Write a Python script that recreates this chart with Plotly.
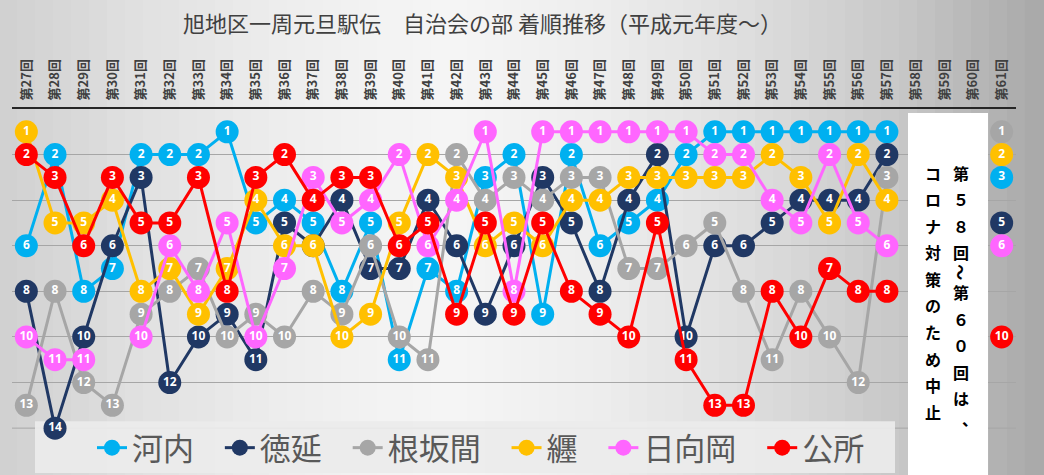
import plotly.graph_objects as go

# 着順データ（第27回〜第61回、第58〜60回は中止）
episodes = [f"第{n}回" for n in range(27, 62)]

kawauchi = [6, 2, 8, 7, 2, 2, 2, 1, 5, 4, 5, 8, 5, 11, 7, 8, 3, 2, 9, 2,
            6, 5, 4, 2, 1, 1, 1, 1, 1, 1, 1, None, None, None, 3]
tokunobe = [8, 14, 10, 6, 3, 12, 10, 9, 11, 5, 6, 4, 7, 7, 4, 6, 9, 6, 3, 5,
            8, 4, 2, 10, 6, 6, 5, 4, 4, 4, 2, None, None, None, 5]
nesakama = [13, 8, 12, 13, 9, 8, 7, 10, 9, 10, 8, 9, 6, 10, 11, 2, 4, 3, 4, 3,
            3, 7, 7, 6, 5, 8, 11, 8, 10, 12, 3, None, None, None, 1]
matoi = [1, 5, 5, 4, 8, 7, 9, 7, 4, 6, 6, 10, 9, 5, 2, 3, 6, 5, 6, 4,
         4, 3, 3, 3, 3, 3, 2, 3, 5, 2, 4, None, None, None, 2]
hinataoka = [10, 11, 11, None, 10, 6, 8, 5, 10, 7, 3, 5, 4, 2, 6, 4, 1, 8, 1, 1,
             1, 1, 1, 1, 2, 2, 4, 5, 2, 5, 6, None, None, None, 6]
kusho = [2, 3, 6, 3, 5, 5, 3, 8, 3, 2, 4, 3, 3, 6, 5, 9, 5, 9, 5, 8,
         9, 10, 5, 11, 13, 13, 8, 10, 7, 8, 8, None, None, None, 10]

rank_grid = [2, 4, 6, 8, 10, 12]
last_rank = 14

series = [
    ("河内", kawauchi, "#00B0F0"),
    ("徳延", tokunobe, "#203864"),
    ("根坂間", nesakama, "#A6A6A6"),
    ("纒", matoi, "#FFC000"),
    ("日向岡", hinataoka, "#FF66FF"),
    ("公所", kusho, "#FF0000"),
]

title_text = "旭地区一周元旦駅伝　自治会の部 着順推移（平成元年度～）"
note_right = "第５８回～第６０回は、"
note_left = "コロナ対策のため中止"

W, H = 1044, 475
L, R, T, B = 12, 28, 109, 0
PW, PH = W - L - R, H - T - B
# 順位14が y=429px に来るよう、下端まで描画領域を伸ばす
unit = (429 - T) / last_rank
y_bottom = last_rank + (H - B - 429) / unit


def px_x(x):
    return (x - L) / PW


def px_y(y):
    return (H - B - y) / PH


fig = go.Figure()

for name, ranks, color in series:
    fig.add_trace(go.Scatter(
        x=episodes,
        y=ranks,
        # 凡例の項目間隔をあけるため末尾に空白を足す
        name=name + "\u00a0\u00a0\u00a0",
        mode="lines+markers+text",
        text=[str(v) if v is not None else "" for v in ranks],
        textposition="middle center",
        textfont=dict(family="Noto Sans", size=12, color="white", weight="bold"),
        line=dict(color=color, width=3),
        marker=dict(color=color, size=23),
        connectgaps=False,
        cliponaxis=False,
    ))

shapes = []
# 背景のグラデーション
stops = [(0, 208), (150, 226), (300, 239), (450, 246), (600, 238),
         (750, 222), (900, 200), (1044, 168)]
n_strips = 58
for i in range(n_strips):
    x0 = W * i / n_strips
    x1 = W * (i + 1) / n_strips
    xm = (x0 + x1) / 2
    for (a, ga), (b, gb) in zip(stops[:-1], stops[1:]):
        if a <= xm <= b:
            g = int(ga + (gb - ga) * (xm - a) / (b - a))
            break
    shapes.append(dict(type="rect", xref="paper", yref="paper",
                       x0=px_x(x0) - 0.001, x1=px_x(x1) + 0.001,
                       y0=px_y(H + 2), y1=px_y(-2),
                       fillcolor=f"rgb({g},{g},{g})", line_width=0, layer="below"))

# 最下段の目盛線（凡例の背景の下に隠れるように）
shapes.append(dict(type="line", xref="paper", yref="y",
                   x0=0, x1=1, y0=last_rank, y1=last_rank,
                   line=dict(color="#a6a6a6", width=1), layer="below"))
# 凡例の背景
shapes.append(dict(type="rect", xref="paper", yref="paper",
                   x0=px_x(35), x1=px_x(895), y0=px_y(474), y1=px_y(422),
                   fillcolor="rgba(236,236,236,0.92)", line_width=0, layer="below"))
# 中止の注記ボックス
shapes.append(dict(type="rect", xref="paper", yref="paper",
                   x0=px_x(908), x1=px_x(988), y0=px_y(478), y1=px_y(113),
                   fillcolor="white", line_width=0, layer="above"))

annotations = [dict(
    text=title_text, xref="paper", yref="paper",
    x=px_x(482), y=px_y(22), xanchor="center", yanchor="middle",
    showarrow=False,
    font=dict(family="Noto Sans CJK JP", size=22, color="#404040"),
)]

# 縦書きの注記（1文字ずつ配置）
step = 26.6
for col_x, chars in ((961, note_right), (933, note_left)):
    cy = 173
    prev = None
    for ch in chars:
        if prev is not None:
            if ch == "、":
                cy += 21
            elif ch == "～" or prev == "～":
                cy += step * 0.75
            else:
                cy += step
        cx = col_x + 9 if ch == "、" else col_x
        annotations.append(dict(
            text=ch, xref="paper", yref="paper",
            x=px_x(cx), y=px_y(cy),
            xanchor="center", yanchor="middle", showarrow=False,
            textangle=90 if ch == "～" else 0,
            font=dict(family="Noto Sans CJK JP", size=16, color="black",
                      weight="bold"),
        ))
        prev = ch

fig.update_layout(
    width=W, height=H,
    margin=dict(l=L, r=R, t=T, b=B),
    paper_bgcolor="#e6e6e6",
    plot_bgcolor="rgba(0,0,0,0)",
    showlegend=True,
    legend=dict(
        orientation="h", x=px_x(92), y=px_y(449),
        xanchor="left", yanchor="middle",
        bgcolor="rgba(0,0,0,0)",
        font=dict(family="Noto Sans CJK JP", size=31, color="#595959"),
        itemwidth=30,
    ),
    shapes=shapes,
    annotations=annotations,
    xaxis=dict(
        type="category", side="top", tickangle=-90,
        showgrid=False, showline=True, linecolor="#262626", linewidth=2,
        ticks="", ticklabelstandoff=4,
        tickfont=dict(family="Noto Sans CJK JP", size=13, color="#404040",
                      weight="bold"),
        range=[-0.5, len(episodes) - 0.5],
    ),
    yaxis=dict(
        range=[y_bottom, 0], tickmode="array", tickvals=rank_grid,
        showticklabels=False, zeroline=False,
        showgrid=True, gridcolor="#a6a6a6", gridwidth=1,
    ),
)

fig.write_html("out.html", config={"displayModeBar": False},
               post_script="document.body.style.margin='0';")
